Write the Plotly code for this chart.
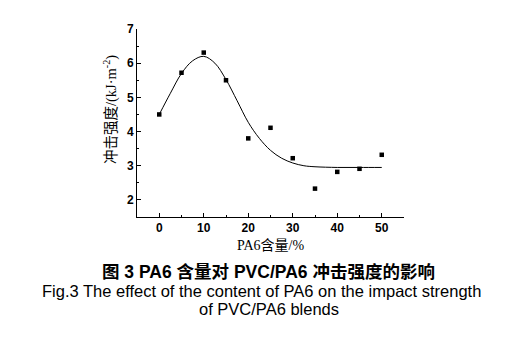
import plotly.graph_objects as go

# Measured impact strength of PVC/PA6 blends
pa6_content = [0, 5, 10, 15, 20, 25, 30, 35, 40, 45, 50]
impact_strength = [4.50, 5.72, 6.31, 5.50, 3.80, 4.11, 3.22, 2.33, 2.82, 2.91, 3.32]

# Fitted trend curve
fit_x = [0, 2.5, 5, 7.5, 10, 12.5, 15, 17.5, 20, 22.5, 25, 27.5, 30, 32.5, 35, 40, 45, 50]
fit_y = [4.50, 5.12, 5.70, 6.07, 6.20, 6.00, 5.52, 4.90, 4.27, 3.80, 3.45, 3.22, 3.08, 3.00,
         2.97, 2.95, 2.95, 2.95]

x_ticks = [0, 10, 20, 30, 40, 50]
y_ticks = [2, 3, 4, 5, 6, 7]

serif = "Liberation Serif, Times New Roman, Noto Sans CJK SC, serif"
sans = "Liberation Sans, Arial, Noto Sans CJK SC, sans-serif"

# plot area in page pixels
W, H = 506, 349
plot_l, plot_r, plot_t, plot_b = 137, 404, 29, 217

fig = go.Figure()
fig.add_trace(go.Scatter(
    x=fit_x, y=fit_y, mode="lines", line=dict(color="black", width=1, shape="spline", smoothing=1.0),
    hoverinfo="skip", showlegend=False,
))
fig.add_trace(go.Scatter(
    x=pa6_content, y=impact_strength, mode="markers",
    marker=dict(symbol="square", size=4.5, color="black"), showlegend=False,
))

axis_common = dict(
    showgrid=False, zeroline=False, showline=True, linecolor="black", linewidth=1,
    ticks="inside", ticklen=4, tickwidth=1, tickcolor="black",
    tickfont=dict(family=sans, size=12, color="black", weight="bold"),
)

fig.update_xaxes(
    range=[-5, 55], tickvals=x_ticks, ticktext=[str(v) for v in x_ticks],
    minor=dict(dtick=5, tick0=0, ticks="inside", ticklen=2, tickcolor="black"),
    **axis_common,
)
fig.update_yaxes(
    range=[1.5, 7], tickvals=y_ticks, ticktext=[str(v) for v in y_ticks],
    minor=dict(dtick=0.5, tick0=0, ticks="inside", ticklen=2, tickcolor="black"),
    **axis_common,
)


def page_text(text, px, py, size, family, angle=0):
    """Text centred on a page-pixel position, expressed in paper coordinates."""
    return dict(
        text=text, showarrow=False, textangle=angle,
        x=(px - plot_l) / (plot_r - plot_l), y=(plot_b - py) / (plot_b - plot_t),
        xref="paper", yref="paper", xanchor="center", yanchor="middle",
        font=dict(family=family, size=size, color="black"),
    )


fig.update_layout(
    width=W, height=H,
    margin=dict(l=plot_l, r=W - plot_r, t=plot_t, b=H - plot_b),
    plot_bgcolor="white", paper_bgcolor="white",
    annotations=[
        page_text("冲击强度/(kJ·m<sup>-2</sup>)", 110, 110, 14.5, serif, angle=-90),
        page_text("PA6含量/%", 271, 245, 14, serif),
        page_text("<b>图 3 PA6 含量对 PVC/PA6 冲击强度的影响</b>", 268, 272, 17.5, sans),
        page_text("Fig.3 The effect of the content of PA6 on the impact strength", 261, 291, 16.5, sans),
        page_text("of PVC/PA6 blends", 269, 309, 16.5, sans),
    ],
)

fig.write_html("out.html")
